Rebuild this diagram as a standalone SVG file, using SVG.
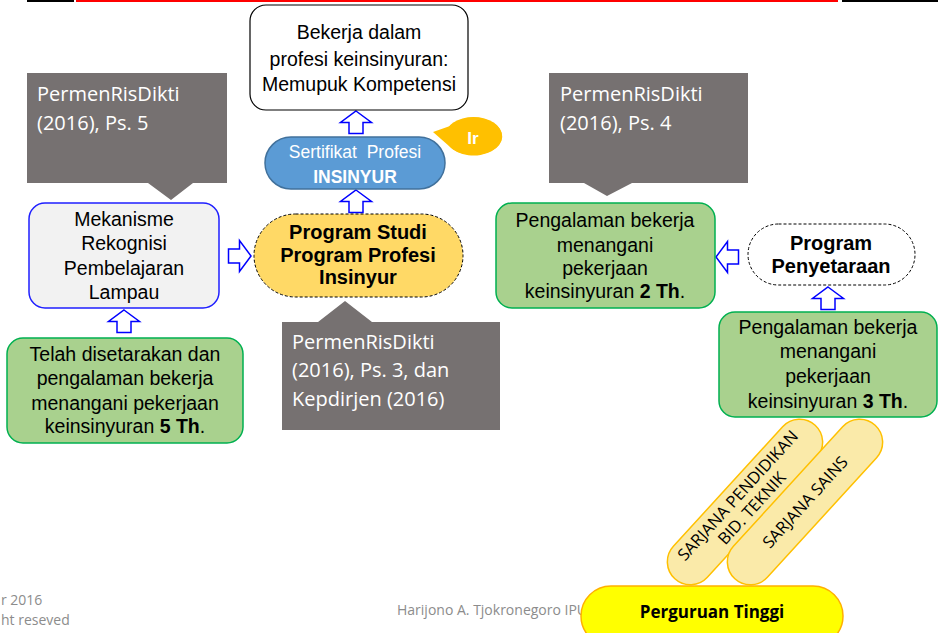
<svg xmlns="http://www.w3.org/2000/svg" xmlns:xlink="http://www.w3.org/1999/xlink" width="938" height="633" viewBox="0 0 938 633">
<style>
.t{font-family:"Liberation Sans",Arial,sans-serif;font-size:19.5px;fill:#000;text-anchor:middle}
.tb{font-family:"Liberation Sans",Arial,sans-serif;font-size:20px;font-weight:bold;fill:#000;text-anchor:middle}
.c{font-family:"Open Sans","Noto Sans",sans-serif;font-size:20px;fill:#fff}
.grey{fill:#767171}
.green{fill:#a9d18e;stroke:#00b050;stroke-width:1.5}
.arr{fill:#fff;stroke:#0000ff;stroke-width:1.5;stroke-linejoin:miter}
.pill{fill:#faeaa9;stroke:#ffc000;stroke-width:1.5}
.pt{font-family:"Open Sans","Noto Sans",sans-serif;font-size:16.5px;fill:#000;text-anchor:middle}
.foot{font-family:"Open Sans","Noto Sans",sans-serif;font-size:14px;fill:#8c8c8c}
</style>
<defs>
<path id="up" d="M0,0 L15.5,11.5 L7,11.5 L7,22.5 L-7,22.5 L-7,11.5 L-15.5,11.5 Z"/>
</defs>
<rect x="0" y="0" width="938" height="633" fill="#fff"/>
<rect x="27" y="0" width="47" height="2" fill="#000"/>
<rect x="76" y="0" width="762" height="2" fill="#ff0000"/>
<rect x="842" y="0" width="96" height="2" fill="#000"/>

<g id="footer">
<text class="foot" x="1" y="605">r 2016</text>
<text class="foot" x="1" y="625">ht reseved</text>
<text class="foot" x="397" y="615">Harijono A. Tjokronegoro IPU</text>
</g>

<g id="connectors">
<use xlink:href="#up" class="arr" transform="translate(356,111)"/>
<use xlink:href="#up" class="arr" transform="translate(356,190)"/>
<use xlink:href="#up" class="arr" transform="translate(124,310)"/>
<use xlink:href="#up" class="arr" transform="translate(828,287)"/>
<use xlink:href="#up" class="arr" transform="translate(251,256) rotate(90)"/>
<use xlink:href="#up" class="arr" transform="translate(716,257) rotate(-90)"/>
</g>

<g id="bekerja">
<rect x="250" y="5" width="218" height="105" rx="16" fill="#fff" stroke="#000" stroke-width="1.2"/>
<text class="t" x="359" y="39">Bekerja dalam</text>
<text class="t" x="359" y="66">profesi keinsinyuran:</text>
<text class="t" x="359" y="91">Memupuk Kompetensi</text>
</g>

<g id="sertifikat">
<rect x="265" y="137" width="180" height="52" rx="26" fill="#5b9bd5" stroke="#41719c" stroke-width="1.5"/>
<text x="355" y="158" font-family="Liberation Sans,Arial,sans-serif" font-size="17.5" fill="#fff" text-anchor="middle" xml:space="preserve">Sertifikat  Profesi</text>
<text x="355" y="183" font-family="Liberation Sans,Arial,sans-serif" font-size="17.5" font-weight="bold" fill="#fff" text-anchor="middle">INSINYUR</text>
</g>

<g id="ir">
<path d="M433,132 L450,126 A28.5,19 0 1 1 449,146 Z" fill="#ffc000"/>
<ellipse cx="473.5" cy="136" rx="28.5" ry="19" fill="#ffc000"/>
<text x="473" y="144" font-family="Liberation Sans,Arial,sans-serif" font-size="17" font-weight="bold" fill="#fff" text-anchor="middle">Ir</text>
</g>

<g id="callout-left">
<path class="grey" d="M27,73 H227 V183 H193 L171,200 L148,183 H27 Z"/>
<text class="c" x="37" y="101">PermenRisDikti</text>
<text class="c" x="37" y="130">(2016), Ps. 5</text>
</g>

<g id="callout-right">
<path class="grey" d="M549,73 H748 V183 H632 L607,196 L584,183 H549 Z"/>
<text class="c" x="560" y="101">PermenRisDikti</text>
<text class="c" x="560" y="130">(2016), Ps. 4</text>
</g>

<g id="callout-bottom">
<path class="grey" d="M282,322 H318 L345,301 L372,322 H500 V430 H282 Z"/>
<text class="c" x="292" y="349">PermenRisDikti</text>
<text class="c" x="292" y="377">(2016), Ps. 3, dan</text>
<text class="c" x="292" y="406">Kepdirjen (2016)</text>
</g>

<g id="mekanisme">
<rect x="29" y="203" width="190" height="105" rx="16" fill="#f2f2f2" stroke="#1f1fff" stroke-width="1.5"/>
<text class="t" x="124" y="226">Mekanisme</text>
<text class="t" x="124" y="250">Rekognisi</text>
<text class="t" x="124" y="275">Pembelajaran</text>
<text class="t" x="124" y="299">Lampau</text>
</g>

<g id="program-studi">
<rect x="254" y="214" width="209" height="83" rx="41.5" fill="#ffd966" stroke="#000" stroke-width="1" stroke-dasharray="3,2"/>
<text class="tb" x="358" y="239">Program Studi</text>
<text class="tb" x="358" y="262">Program Profesi</text>
<text class="tb" x="358" y="284">Insinyur</text>
</g>

<g id="telah">
<rect class="green" x="7" y="338" width="236" height="105" rx="16"/>
<text class="t" x="125" y="361">Telah disetarakan dan</text>
<text class="t" x="125" y="385">pengalaman bekerja</text>
<text class="t" x="125" y="410">menangani pekerjaan</text>
<text class="t" x="125" y="433">keinsinyuran <tspan font-weight="bold">5 Th</tspan>.</text>
</g>

<g id="pengalaman-2">
<rect class="green" x="496" y="203" width="219" height="105" rx="16"/>
<text class="t" x="605" y="227">Pengalaman bekerja</text>
<text class="t" x="605" y="252">menangani</text>
<text class="t" x="605" y="275">pekerjaan</text>
<text class="t" x="605" y="298">keinsinyuran <tspan font-weight="bold">2 Th</tspan>.</text>
</g>

<g id="penyetaraan">
<rect x="748" y="224" width="167" height="61" rx="30.5" fill="#fff" stroke="#000" stroke-width="1" stroke-dasharray="3,2"/>
<text class="tb" x="831" y="250">Program</text>
<text class="tb" x="831" y="273">Penyetaraan</text>
</g>

<g id="pengalaman-3">
<rect class="green" x="719" y="312" width="218" height="105" rx="16"/>
<text class="t" x="828" y="334">Pengalaman bekerja</text>
<text class="t" x="828" y="358">menangani</text>
<text class="t" x="828" y="383">pekerjaan</text>
<text class="t" x="828" y="408">keinsinyuran <tspan font-weight="bold">3 Th</tspan>.</text>
</g>

<g id="sarjana-pendidikan" transform="translate(745,502) rotate(-47.6)">
<rect class="pill" x="-104" y="-23" width="208" height="46" rx="23"/>
<text class="pt" x="0" y="-4">SARJANA PENDIDIKAN</text>
<text class="pt" x="0" y="15">BID. TEKNIK</text>
</g>

<g id="sarjana-sains" transform="translate(805,502) rotate(-47.6)">
<rect class="pill" x="-104" y="-23" width="208" height="46" rx="23"/>
<text class="pt" x="0" y="6">SARJANA SAINS</text>
</g>

<g id="perguruan-tinggi">
<rect x="581" y="586" width="262" height="60" rx="30" fill="#ffff00" stroke="#ffb000" stroke-width="1.5"/>
<text x="712" y="618" font-family="Open Sans,Noto Sans,sans-serif" font-size="17" font-weight="bold" fill="#000" text-anchor="middle">Perguruan Tinggi</text>
</g>
</svg>
